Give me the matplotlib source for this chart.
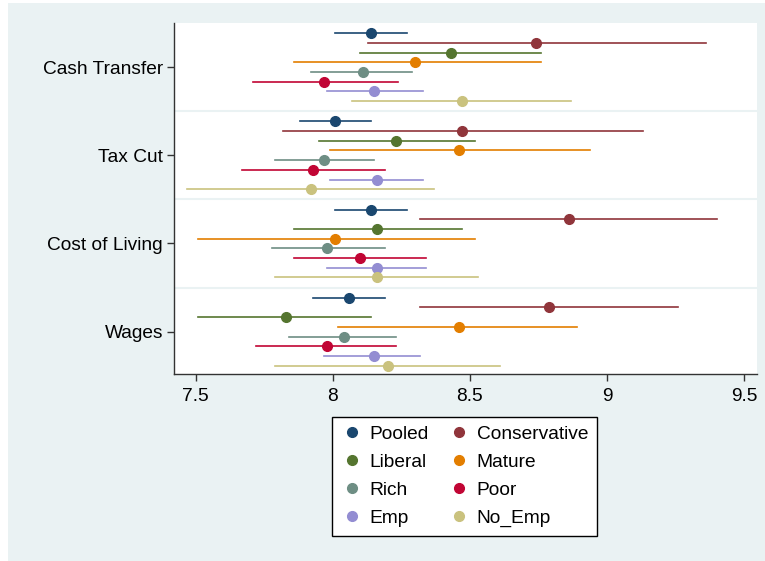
import matplotlib.pyplot as plt
from matplotlib.patches import Rectangle
from matplotlib.lines import Line2D

plt.rcParams['font.family'] = ['Liberation Sans', 'DejaVu Sans']

# outcomes, top to bottom
outcomes = ['Cash Transfer', 'Tax Cut', 'Cost of Living', 'Wages']
groups = ['Pooled', 'Conservative', 'Liberal', 'Mature', 'Rich', 'Poor', 'Emp', 'No_Emp']
colors = ['#1a476f', '#90353b', '#55752f', '#e37e00', '#6e8e84', '#c10534', '#938dd2', '#cac27e']

# point estimates, one list per outcome (order of groups)
est_cash = [8.14, 8.74, 8.43, 8.30, 8.11, 7.97, 8.15, 8.47]
est_tax = [8.01, 8.47, 8.23, 8.46, 7.97, 7.93, 8.16, 7.92]
est_col = [8.14, 8.86, 8.16, 8.01, 7.98, 8.10, 8.16, 8.16]
est_wag = [8.06, 8.79, 7.83, 8.46, 8.04, 7.98, 8.15, 8.20]

# lower / upper bounds of the intervals
lo_cash = [8.01, 8.13, 8.10, 7.86, 7.92, 7.71, 7.98, 8.07]
hi_cash = [8.27, 9.36, 8.76, 8.76, 8.29, 8.24, 8.33, 8.87]
lo_tax = [7.88, 7.82, 7.95, 7.99, 7.79, 7.67, 7.99, 7.47]
hi_tax = [8.14, 9.13, 8.52, 8.94, 8.15, 8.19, 8.33, 8.37]
lo_col = [8.01, 8.32, 7.86, 7.51, 7.78, 7.86, 7.98, 7.79]
hi_col = [8.27, 9.40, 8.47, 8.52, 8.19, 8.34, 8.34, 8.53]
lo_wag = [7.93, 8.32, 7.51, 8.02, 7.84, 7.72, 7.97, 7.79]
hi_wag = [8.19, 9.26, 8.14, 8.89, 8.23, 8.23, 8.32, 8.61]

ests = [est_cash, est_tax, est_col, est_wag]
los = [lo_cash, lo_tax, lo_col, lo_wag]
his = [hi_cash, hi_tax, hi_col, hi_wag]

fig = plt.figure(figsize=(7.65, 5.61), dpi=100)
fig.patches.append(Rectangle((8 / 765, 0), 1, 1 - 3 / 561, transform=fig.transFigure,
                             facecolor='#eaf2f3', edgecolor='none', zorder=-10))
ax = fig.add_axes([0.2275, 0.3333, 0.762, 0.6257])
ax.set_facecolor('white')

step = 0.11
centers = [3, 2, 1, 0]
for g in range(4):
    for i in range(8):
        y = centers[g] + (3.5 - i) * step
        ax.plot([los[g][i], his[g][i]], [y, y], color=colors[i], lw=1.2, zorder=2)
        ax.plot(ests[g][i], y, 'o', color=colors[i], ms=7, zorder=3)

for s in [0.5, 1.5, 2.5]:
    ax.axhline(s, color='#eaf2f3', lw=1.5, zorder=1)

ax.set_xlim(7.4217, 9.547)
ax.set_ylim(-0.48, 3.5)
ax.set_xticks([7.5, 8, 8.5, 9, 9.5])
ax.set_xticklabels(['7.5', '8', '8.5', '9', '9.5'])
ax.set_yticks(centers)
ax.set_yticklabels(outcomes)
ax.tick_params(labelsize=13.8, length=5, width=1, color='#333333')
ax.tick_params(axis='y', pad=3)
ax.tick_params(axis='x', pad=5)
for side in ['top', 'right']:
    ax.spines[side].set_visible(False)
for side in ['left', 'bottom']:
    ax.spines[side].set_color('#333333')
    ax.spines[side].set_linewidth(1)

order = [0, 2, 4, 6, 1, 3, 5, 7]
handles = [Line2D([], [], ls='none', marker='o', color=colors[i], ms=7) for i in order]
labels = [groups[i] for i in order]
leg = fig.legend(handles, labels, loc='center', bbox_to_anchor=(0.607, 0.1506), ncol=2,
                 fontsize=13.8, frameon=True, fancybox=False, framealpha=1,
                 handletextpad=0.3, columnspacing=1.0, labelspacing=0.55,
                 borderpad=0.45, handlelength=1.2)
leg.get_frame().set_edgecolor('black')
leg.get_frame().set_linewidth(1)

fig.savefig('out.png', dpi=100)
